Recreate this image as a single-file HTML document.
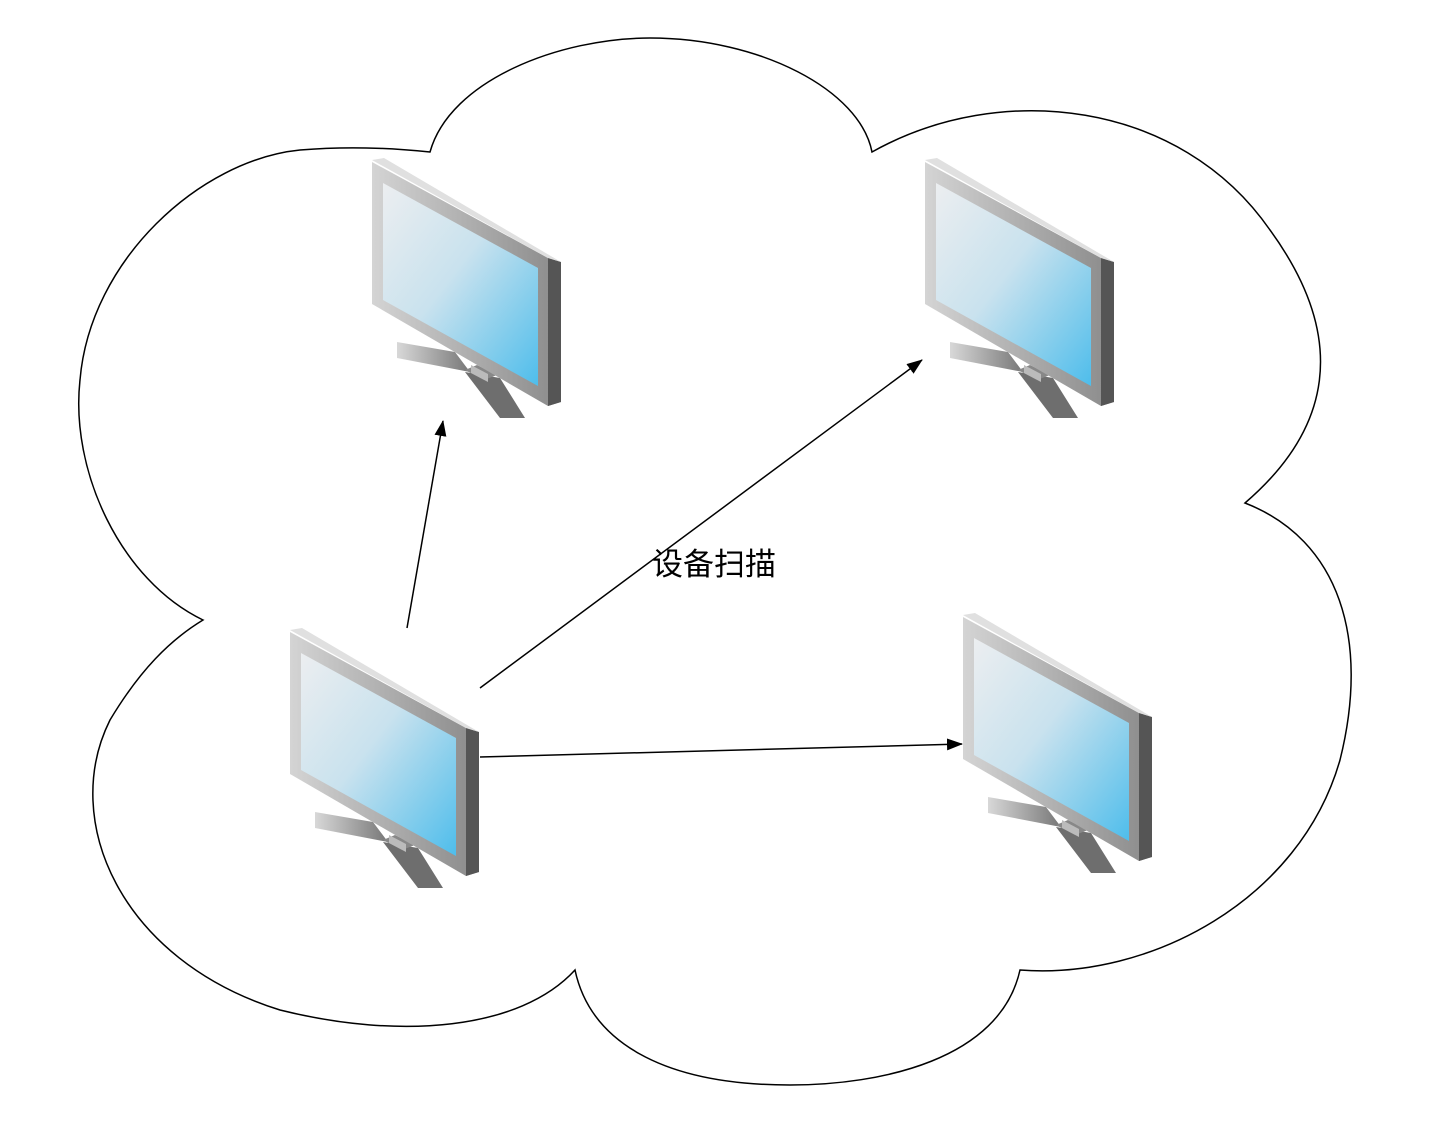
<!DOCTYPE html>
<html><head><meta charset="utf-8"><style>body{margin:0;background:#fff}svg{display:block}</style></head><body>
<svg width="1456" height="1132" viewBox="0 0 1456 1132" xmlns="http://www.w3.org/2000/svg">
<defs>
<linearGradient id="scr" x1="0" y1="0" x2="1" y2="1"><stop offset="0" stop-color="#eceef0"/><stop offset="0.45" stop-color="#c9e2ee"/><stop offset="1" stop-color="#4ebdeb"/></linearGradient>
<linearGradient id="frm" x1="0" y1="0" x2="1" y2="0"><stop offset="0" stop-color="#d4d4d4"/><stop offset="1" stop-color="#8a8a8a"/></linearGradient>
<linearGradient id="bar" x1="0" y1="0" x2="1" y2="0"><stop offset="0" stop-color="#d8d8d8"/><stop offset="1" stop-color="#777"/></linearGradient>
<marker id="ar" markerWidth="16" markerHeight="14" refX="15" refY="7" orient="auto" markerUnits="userSpaceOnUse" viewBox="0 0 16 14"><path d="M0,1 L16,7 L0,13 Z" fill="#000"/></marker>
<g id="mon">
<path d="M25 182 L83 192 L98 212 L25 198 Z" fill="url(#bar)"/>
<path d="M93 212 L128 258 L153 258 L128 218 Z" fill="#6e6e6e"/>
<path d="M93 210 L112 220 L125 215 L105 205 Z" fill="#888"/>
<path d="M0 2 L176 98 L189 102 L189 242 L176 246 L0 144 Z" fill="url(#frm)"/>
<path d="M176 98 L189 102 L189 242 L176 246 Z" fill="#555"/>
<path d="M0 0 L12 -2 L189 102 L176 98 Z" fill="#e0e0e0"/>
<path d="M11 23 L166 108 L166 226 L11 140 Z" fill="url(#scr)"/>
<path d="M99 205 L116 214 L116 222 L99 213 Z" fill="#bbb"/>
</g>
</defs>
<path d="M430 152 C450 80,560 38,650 38 C760 38,860 90,872 152 C1000 80,1180 100,1270 230 C1350 340,1330 430,1245 503 C1340 540,1370 640,1340 760 C1300 900,1150 980,1020 970 C1000 1060,880 1085,790 1085 C660 1085,590 1040,575 970 C520 1030,400 1040,280 1010 C120 960,60 820,110 720 C140 670,170 640,203 620 C120 580,70 470,80 380 C90 260,200 160,300 150 C360 145,410 150,430 152 Z" fill="#fff" stroke="#000" stroke-width="1.5"/>
<use href="#mon" x="372" y="160"/>
<use href="#mon" x="925" y="160"/>
<use href="#mon" x="290" y="630"/>
<use href="#mon" x="963" y="615"/>
<g stroke="#000" stroke-width="1.5" fill="none">
<line x1="407" y1="628" x2="443" y2="421" marker-end="url(#ar)"/>
<line x1="480" y1="688" x2="922" y2="360" marker-end="url(#ar)"/>
<line x1="480" y1="757" x2="962" y2="744" marker-end="url(#ar)"/>
</g>
<text x="652" y="575" font-family="Liberation Sans, Noto Sans CJK SC, sans-serif" font-size="31" fill="#000">设备扫描</text>
</svg>
</body></html>
